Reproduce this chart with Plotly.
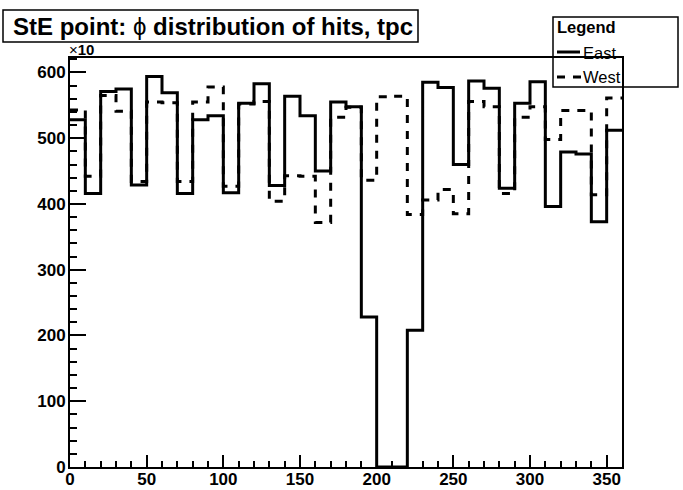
import plotly.graph_objects as go

# phi bins, 10 degrees wide (low edges), counts in units of x10
phi_low = list(range(0, 360, 10))
phi_max = 360

east = [528, 416, 571, 575, 429, 594, 569, 416, 528, 534,
        417, 553, 583, 428, 564, 534, 450, 555, 548, 228,
        0, 0, 208, 585, 577, 460, 587, 576, 424, 553,
        586, 396, 479, 476, 373, 512]
west = [543, 442, 565, 541, 434, 555, 554, 434, 555, 578,
        427, 552, 556, 404, 443, 442, 372, 532, 547, 436,
        563, 564, 384, 406, 422, 385, 556, 548, 416, 532,
        548, 498, 542, 542, 414, 561]

FONT = "Liberation Sans"
W, H = 683, 490
L, R, T, B = 70, 622, 58, 467   # plot frame in pixels


def px(x):
    return (x - L) / (R - L)


def py(y):
    return (B - y) / (B - T)


def step(vals):
    return phi_low + [phi_max], vals + [vals[-1]]


fig = go.Figure()
x, y = step(east)
fig.add_trace(go.Scatter(x=x, y=y, mode="lines", name="East",
                         line=dict(shape="hv", color="black", width=3)))
x, y = step(west)
fig.add_trace(go.Scatter(x=x, y=y, mode="lines", name="West",
                         line=dict(shape="hv", color="black", width=3, dash="8px,8px")))

tickfont = dict(family=FONT, size=17, color="black", weight="bold")
fig.update_xaxes(range=[0, phi_max], showgrid=False, zeroline=False, automargin=False,
                 showline=True, linecolor="black", linewidth=2, mirror=True,
                 ticks="inside", ticklen=12, tickwidth=2, tickcolor="black",
                 tick0=0, dtick=50, tickfont=tickfont, ticklabelstandoff=-4,
                 minor=dict(dtick=10, ticks="inside", ticklen=6, tickwidth=2, tickcolor="black"))
fig.update_yaxes(range=[0, 622], showgrid=False, zeroline=False, automargin=False,
                 showline=True, linecolor="black", linewidth=2, mirror=True,
                 ticks="inside", ticklen=16, tickwidth=2, tickcolor="black",
                 tick0=0, dtick=100, tickfont=tickfont, ticklabelstandoff=-1,
                 minor=dict(dtick=20, ticks="inside", ticklen=7, tickwidth=2, tickcolor="black"))

shapes = [
    # title box
    dict(type="rect", xref="paper", yref="paper", x0=px(3), x1=px(418), y0=py(42), y1=py(10),
         line=dict(color="black", width=1.5), fillcolor="white"),
    # legend box
    dict(type="rect", xref="paper", yref="paper", x0=px(553), x1=px(678), y0=py(87), y1=py(17),
         line=dict(color="black", width=1.5)),
    dict(type="line", xref="paper", yref="paper", x0=px(557), x1=px(580), y0=py(52), y1=py(52),
         line=dict(color="black", width=3)),
    dict(type="line", xref="paper", yref="paper", x0=px(557), x1=px(582), y0=py(77), y1=py(77),
         line=dict(color="black", width=3, dash="8px,8px")),
]

annotations = [
    dict(text="<b>StE point:</b> ϕ <b>distribution of hits, tpc</b>", xref="paper", yref="paper",
         x=px(11), y=py(26), xanchor="left", yanchor="middle", showarrow=False,
         font=dict(family=FONT, size=24, color="black")),
    dict(text="×<b>10</b>", xref="paper", yref="paper", x=px(67), y=py(49),
         xanchor="left", yanchor="middle", showarrow=False,
         font=dict(family=FONT, size=15, color="black")),
    dict(text="<b>Legend</b>", xref="paper", yref="paper", x=px(555), y=py(27),
         xanchor="left", yanchor="middle", showarrow=False,
         font=dict(family=FONT, size=16.5, color="black")),
    dict(text="East", xref="paper", yref="paper", x=px(581), y=py(53),
         xanchor="left", yanchor="middle", showarrow=False,
         font=dict(family=FONT, size=16.5, color="black")),
    dict(text="West", xref="paper", yref="paper", x=px(581), y=py(77),
         xanchor="left", yanchor="middle", showarrow=False,
         font=dict(family=FONT, size=16.5, color="black")),
]

fig.update_layout(width=W, height=H, autosize=False,
                  margin=dict(l=L, r=W - R, t=T, b=H - B, pad=0, autoexpand=False),
                  paper_bgcolor="white", plot_bgcolor="white",
                  showlegend=False, shapes=shapes, annotations=annotations,
                  font=dict(family=FONT, color="black"))

# drop the default page margin so the figure sits at the top-left corner
fig.write_html("out.html", config={"displayModeBar": False},
               post_script="document.body.style.margin='0';")
